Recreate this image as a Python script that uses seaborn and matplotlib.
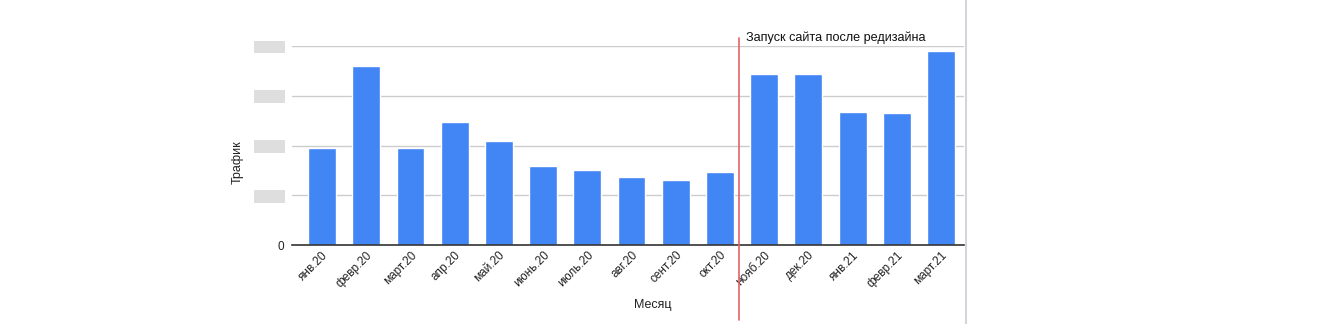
import matplotlib
matplotlib.use("Agg")
import matplotlib.pyplot as plt
import seaborn as sns
import pandas as pd
from matplotlib.lines import Line2D

months = ["янв.20", "февр.20", "март.20", "апр.20", "май.20", "июнь.20", "июль.20",
          "авг.20", "сент.20", "окт.20", "нояб.20", "дек.20", "янв.21", "февр.21", "март.21"]
traffic = [1950, 3600, 1950, 2470, 2090, 1590, 1510, 1370, 1310, 1470, 3440, 3440, 2670, 2650, 3900]
y_ticks = [0, 1000, 2000, 3000, 4000]
annotation = "Запуск сайта после редизайна"

sns.set_theme(style="white")
plt.rcParams["font.family"] = ["Liberation Sans", "DejaVu Sans"]

df = pd.DataFrame({"Месяц": months, "Трафик": traffic})

fig = plt.figure(figsize=(13.4, 3.24), dpi=100)
ax = fig.add_axes([292 / 1340, 1 - 245 / 324, (964 - 292) / 1340, (245 - 46) / 324])

sns.barplot(data=df, x="Месяц", y="Трафик", color="#4285f4", saturation=1,
            width=0.63, ax=ax, zorder=3)

ax.set_xlim(-0.68, 14.52)
ax.set_ylim(0, 4000)
ax.set_yticks(y_ticks)
ax.set_yticklabels(["0"] + ["          " for _ in y_ticks[1:]], fontsize=8.5, color="#222222")
for lbl in ax.get_yticklabels()[1:]:
    lbl.set_fontsize(7.5)
    lbl.set_bbox(dict(facecolor="#dedede", edgecolor="none", pad=1))
ax.yaxis.grid(True, color="#cccccc", linewidth=1, zorder=0)
ax.tick_params(axis="y", length=0, pad=6)
ax.tick_params(axis="x", length=0, pad=3)
ax.set_xticks(range(len(months)))
ax.set_xticklabels(months, rotation=45, ha="right", rotation_mode="anchor",
                   fontsize=8.5, color="#222222")
for s in ["top", "right", "left"]:
    ax.spines[s].set_visible(False)
ax.spines["bottom"].set_color("#333333")
ax.spines["bottom"].set_linewidth(1.2)
ax.spines["bottom"].set_zorder(4)

ax.set_xlabel("Месяц", fontsize=9, color="#222222")
ax.set_ylabel("Трафик", fontsize=9, color="#222222")
ax.xaxis.set_label_coords((653 - 292) / 672, -(299 - 245) / 199)
ax.yaxis.set_label_coords(-(292 - 244) / 672, (245 - 162) / 199)

# Launch marker
ax.axvline(9.43, ymin=-(320 - 245) / 199, ymax=(245 - 38) / 199, color="#e06666",
           linewidth=1.2, clip_on=False, zorder=5)
ax.text(9.6, 4000 + 8 / 199 * 4000, annotation, fontsize=9.1, color="#111111",
        ha="left", va="center")

# right border of screenshot
fig.add_artist(Line2D([966 / 1340, 966 / 1340], [0, 1], color="#d4d4dc", linewidth=1.5))

fig.savefig("out.png", dpi=100)
